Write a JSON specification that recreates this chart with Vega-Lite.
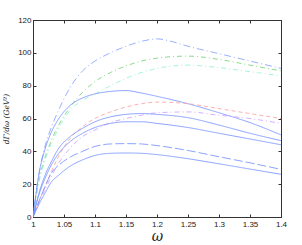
{
  "$schema": "https://vega.github.io/schema/vega-lite/v6.json",
  "width": 248,
  "height": 197,
  "autosize": "none",
  "padding": {"left": 33, "top": 20, "right": 21, "bottom": 28},
  "background": "white",
  "config": {
    "view": {"stroke": "#333", "strokeWidth": 1},
    "axis": {"grid": false, "domainColor": "#333", "tickColor": "#333", "labelFont": "Liberation Sans", "labelFontSize": 8, "labelColor": "#222", "titleColor": "#222"}
  },
  "datasets": {
    "curves": [
      {"x":1,"s":"A","y":0},{"x":1.01,"s":"A","y":27},{"x":1.02,"s":"A","y":44},{"x":1.03,"s":"A","y":55},{"x":1.04,"s":"A","y":64},{"x":1.06,"s":"A","y":79},{"x":1.08,"s":"A","y":89},{"x":1.1,"s":"A","y":95},{"x":1.125,"s":"A","y":100},{"x":1.15,"s":"A","y":104},{"x":1.175,"s":"A","y":107},{"x":1.2,"s":"A","y":108.5},{"x":1.225,"s":"A","y":106.8},{"x":1.25,"s":"A","y":104},{"x":1.3,"s":"A","y":99.5},{"x":1.35,"s":"A","y":95},{"x":1.4,"s":"A","y":90.5},
      {"x":1,"s":"B","y":0},{"x":1.01,"s":"B","y":23},{"x":1.02,"s":"B","y":37},{"x":1.03,"s":"B","y":47},{"x":1.04,"s":"B","y":55},{"x":1.06,"s":"B","y":67},{"x":1.08,"s":"B","y":76},{"x":1.1,"s":"B","y":82.5},{"x":1.125,"s":"B","y":88},{"x":1.15,"s":"B","y":92},{"x":1.175,"s":"B","y":95},{"x":1.2,"s":"B","y":96.8},{"x":1.25,"s":"B","y":98},{"x":1.3,"s":"B","y":96},{"x":1.35,"s":"B","y":92.5},{"x":1.4,"s":"B","y":89},
      {"x":1,"s":"C","y":0},{"x":1.01,"s":"C","y":22},{"x":1.02,"s":"C","y":35},{"x":1.03,"s":"C","y":45},{"x":1.04,"s":"C","y":53},{"x":1.06,"s":"C","y":65},{"x":1.08,"s":"C","y":71},{"x":1.1,"s":"C","y":75},{"x":1.125,"s":"C","y":80},{"x":1.15,"s":"C","y":84.5},{"x":1.175,"s":"C","y":88},{"x":1.2,"s":"C","y":90.5},{"x":1.25,"s":"C","y":92.5},{"x":1.3,"s":"C","y":91},{"x":1.35,"s":"C","y":88.5},{"x":1.4,"s":"C","y":86},
      {"x":1,"s":"D","y":0},{"x":1.01,"s":"D","y":27},{"x":1.02,"s":"D","y":42},{"x":1.03,"s":"D","y":52},{"x":1.04,"s":"D","y":59},{"x":1.06,"s":"D","y":68},{"x":1.08,"s":"D","y":72.5},{"x":1.1,"s":"D","y":75},{"x":1.125,"s":"D","y":76.5},{"x":1.15,"s":"D","y":77},{"x":1.175,"s":"D","y":75.5},{"x":1.2,"s":"D","y":73.5},{"x":1.25,"s":"D","y":69},{"x":1.3,"s":"D","y":63.5},{"x":1.35,"s":"D","y":57.5},{"x":1.4,"s":"D","y":50},
      {"x":1,"s":"E","y":0},{"x":1.01,"s":"E","y":10},{"x":1.02,"s":"E","y":19},{"x":1.03,"s":"E","y":28},{"x":1.04,"s":"E","y":36},{"x":1.06,"s":"E","y":48},{"x":1.08,"s":"E","y":55},{"x":1.1,"s":"E","y":60},{"x":1.125,"s":"E","y":64},{"x":1.15,"s":"E","y":67},{"x":1.175,"s":"E","y":69},{"x":1.2,"s":"E","y":70},{"x":1.25,"s":"E","y":69},{"x":1.3,"s":"E","y":66},{"x":1.35,"s":"E","y":63},{"x":1.4,"s":"E","y":60},
      {"x":1,"s":"F","y":0},{"x":1.01,"s":"F","y":9},{"x":1.02,"s":"F","y":17},{"x":1.03,"s":"F","y":25},{"x":1.04,"s":"F","y":32},{"x":1.06,"s":"F","y":42},{"x":1.08,"s":"F","y":49},{"x":1.1,"s":"F","y":53},{"x":1.125,"s":"F","y":57.5},{"x":1.15,"s":"F","y":60},{"x":1.175,"s":"F","y":62},{"x":1.2,"s":"F","y":63.5},{"x":1.25,"s":"F","y":64},{"x":1.3,"s":"F","y":62},{"x":1.35,"s":"F","y":60},{"x":1.4,"s":"F","y":57},
      {"x":1,"s":"G","y":0},{"x":1.01,"s":"G","y":15},{"x":1.02,"s":"G","y":26},{"x":1.03,"s":"G","y":34},{"x":1.04,"s":"G","y":41},{"x":1.06,"s":"G","y":49},{"x":1.08,"s":"G","y":54},{"x":1.1,"s":"G","y":58},{"x":1.125,"s":"G","y":61},{"x":1.15,"s":"G","y":62.5},{"x":1.175,"s":"G","y":63},{"x":1.2,"s":"G","y":62.5},{"x":1.25,"s":"G","y":60.5},{"x":1.3,"s":"G","y":56},{"x":1.35,"s":"G","y":51},{"x":1.4,"s":"G","y":46.5},
      {"x":1,"s":"H","y":0},{"x":1.01,"s":"H","y":14},{"x":1.02,"s":"H","y":24},{"x":1.03,"s":"H","y":32},{"x":1.04,"s":"H","y":38},{"x":1.06,"s":"H","y":46},{"x":1.08,"s":"H","y":51},{"x":1.1,"s":"H","y":54.5},{"x":1.125,"s":"H","y":57},{"x":1.15,"s":"H","y":58},{"x":1.175,"s":"H","y":58},{"x":1.2,"s":"H","y":57},{"x":1.25,"s":"H","y":54.5},{"x":1.3,"s":"H","y":51},{"x":1.35,"s":"H","y":47.5},{"x":1.4,"s":"H","y":44},
      {"x":1,"s":"I","y":0},{"x":1.01,"s":"I","y":10},{"x":1.02,"s":"I","y":19},{"x":1.03,"s":"I","y":27},{"x":1.04,"s":"I","y":31},{"x":1.06,"s":"I","y":36.5},{"x":1.08,"s":"I","y":40},{"x":1.1,"s":"I","y":43},{"x":1.125,"s":"I","y":44.5},{"x":1.15,"s":"I","y":44.7},{"x":1.175,"s":"I","y":44.5},{"x":1.2,"s":"I","y":43.5},{"x":1.25,"s":"I","y":40.5},{"x":1.3,"s":"I","y":36.7},{"x":1.35,"s":"I","y":33},{"x":1.4,"s":"I","y":29},
      {"x":1,"s":"J","y":0},{"x":1.01,"s":"J","y":8},{"x":1.02,"s":"J","y":15},{"x":1.03,"s":"J","y":21.5},{"x":1.04,"s":"J","y":25},{"x":1.06,"s":"J","y":31},{"x":1.08,"s":"J","y":34.8},{"x":1.1,"s":"J","y":37.5},{"x":1.125,"s":"J","y":38.8},{"x":1.15,"s":"J","y":39},{"x":1.175,"s":"J","y":38.8},{"x":1.2,"s":"J","y":38},{"x":1.25,"s":"J","y":35.5},{"x":1.3,"s":"J","y":32.4},{"x":1.35,"s":"J","y":29.2},{"x":1.4,"s":"J","y":26}
    ]
  },
  "data": {"name": "curves"},
  "layer": [
    {
      "mark": {"type": "line", "interpolate": "monotone", "strokeWidth": 0.8, "clip": true},
      "encoding": {
        "x": {"field": "x", "type": "quantitative", "scale": {"domain": [1, 1.4], "nice": false, "zero": false},
          "axis": {"orient": "bottom", "values": [1, 1.05, 1.1, 1.15, 1.2, 1.25, 1.3, 1.35, 1.4], "format": "~g", "tickSize": -3, "labelPadding": 6, "labelFlush": false,
            "title": "ω", "titleFont": "DejaVu Serif", "titleFontStyle": "italic", "titleFontWeight": "normal", "titleFontSize": 14, "titlePadding": 1}},
        "y": {"field": "y", "type": "quantitative", "scale": {"domain": [0, 120], "nice": false},
          "axis": {"orient": "left", "values": [0, 20, 40, 60, 80, 100, 120], "tickSize": -3, "labelPadding": 5,
            "title": "dΓ/dω (GeV²)", "titleFont": "DejaVu Serif", "titleFontStyle": "italic", "titleFontWeight": "normal", "titleFontSize": 7.5, "titlePadding": 7}},
        "color": {"field": "s", "type": "nominal", "legend": null,
          "scale": {"domain": ["A","B","C","D","E","F","G","H","I","J"],
                    "range": ["#7f9cff","#6fcf6f","#8ff0d4","#6f8cff","#ff9c9c","#c99cff","#6f8cff","#6f8cff","#6f8cff","#6f8cff"]}},
        "strokeDash": {"field": "s", "type": "nominal", "legend": null,
          "scale": {"domain": ["A","B","C","D","E","F","G","H","I","J"],
                    "range": [[7,3,1,3],[5,3,1,3],[5,3,1,3],[1,0],[4,3],[5,3,1,3],[1,0],[1,0],[9,3],[1,0]]}}
      }
    },
    {
      "mark": {"type": "line", "strokeOpacity": 0},
      "encoding": {
        "x": {"field": "x", "type": "quantitative", "scale": {"domain": [1, 1.4], "nice": false, "zero": false},
          "axis": {"orient": "top", "values": [1, 1.05, 1.1, 1.15, 1.2, 1.25, 1.3, 1.35, 1.4], "tickSize": -3, "labels": false, "title": null}},
        "y": {"field": "y", "type": "quantitative", "scale": {"domain": [0, 120], "nice": false},
          "axis": {"orient": "right", "values": [0, 20, 40, 60, 80, 100, 120], "tickSize": -3, "labels": false, "title": null}},
        "detail": {"field": "s"}
      }
    }
  ],
  "resolve": {"axis": {"x": "independent", "y": "independent"}}
}
